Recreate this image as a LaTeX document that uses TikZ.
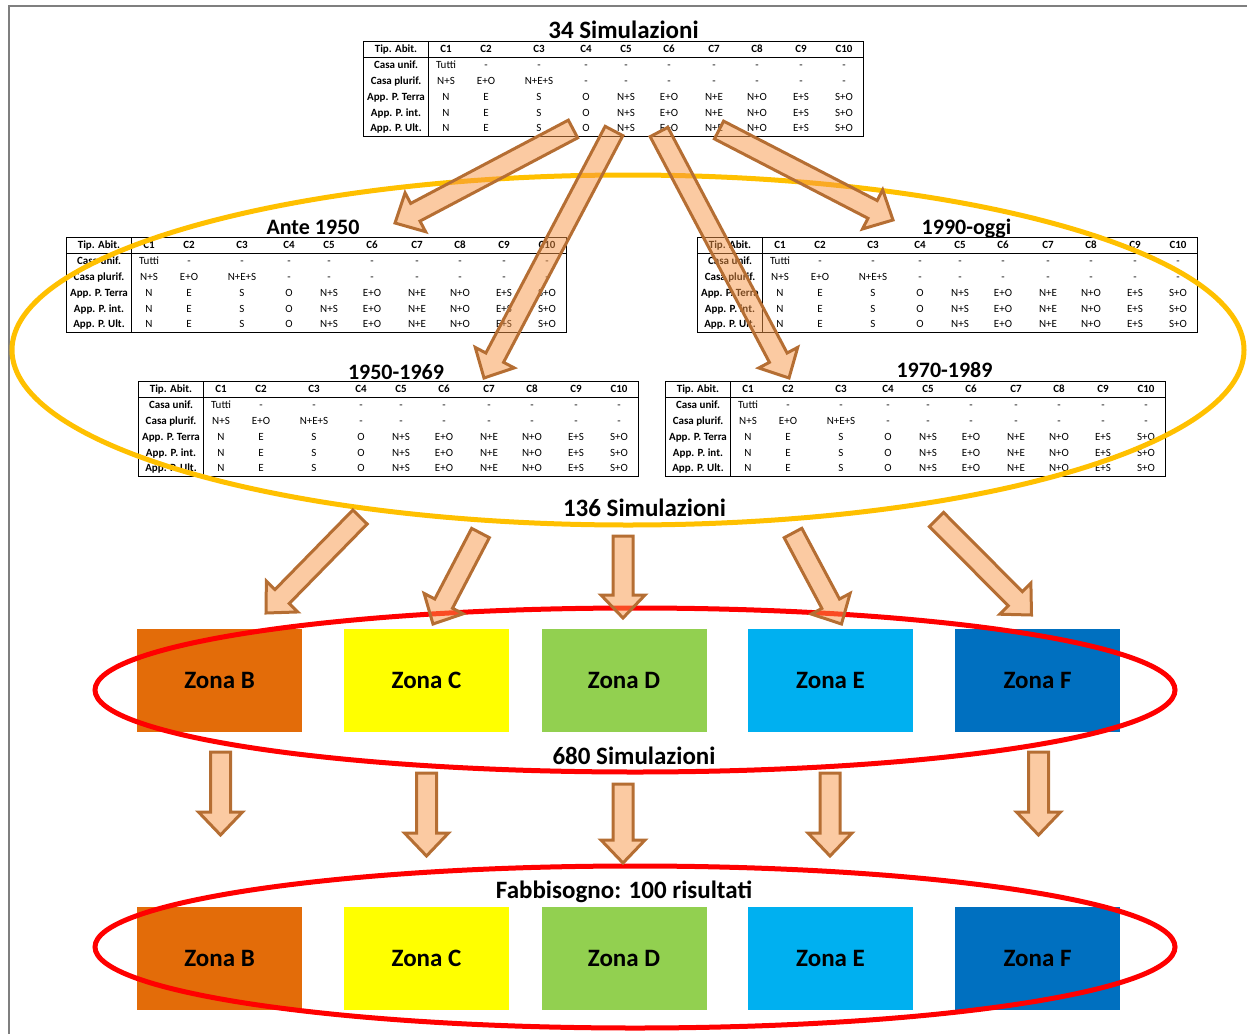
\documentclass[tikz,border=0pt]{standalone}
\usepackage{fontspec}
\setmainfont{Carlito}
\usetikzlibrary{calc}
\definecolor{arrline}{RGB}{181,110,51}
\definecolor{arrfill}{RGB}{247,150,70}
\definecolor{ellyel}{RGB}{255,192,0}
\definecolor{zb}{RGB}{227,108,9}
\definecolor{zc}{RGB}{255,255,0}
\definecolor{zd}{RGB}{146,208,80}
\definecolor{ze}{RGB}{0,176,240}
\definecolor{zf}{RGB}{0,112,192}
\definecolor{pageline}{RGB}{127,127,127}
\tikzset{
 tframe/.style={draw, line width=1pt, minimum width=500pt, minimum height=95pt, inner sep=0pt, anchor=north west},
 tline/.style={line width=0.8pt},
 tcell/.style={anchor=base, inner sep=0pt, font=\fontsize{11}{13}\selectfont},
 thead/.style={anchor=base, inner sep=0pt, font=\fontsize{11}{13}\selectfont\bfseries},
 ttitle/.style={anchor=base, inner sep=0pt, font=\fontsize{22}{26}\selectfont\bfseries},
 biglabel/.style={anchor=base, inner sep=0pt, font=\fontsize{25}{30}\selectfont\bfseries},
 zone/.style={minimum width=165pt, minimum height=103pt, inner sep=0pt, font=\fontsize{25}{30}\selectfont\bfseries},
 blockarrow/.style={draw=arrline, line width=3pt, fill=arrfill, fill opacity=0.5, line join=miter},
 yellowring/.style={draw=ellyel, line width=5pt},
 redring/.style={draw=red, line width=5pt},
 pageborder/.style={draw=pageline, line width=2pt},
}
\def\colx{{83,123,176,223,263,306,351,394,438,481}}
\newcommand\tabrow[3]{%
 \foreach \t [count=\c] in {#3} {%
  \pgfmathsetmacro\cx{\colx[\c-1]}%
  \node[tcell] (#1-\c-#2) at (\cx,{11.8+15.8*#2}) {\t};}}
\newcommand\simtable[3]{% name, left x, top y
 \begin{scope}[shift={(#2,#3)}]
  \node[tframe] (#1) at (0,0) {};
  \draw[tline] ([yshift=-16pt]#1.north west) -- ([yshift=-16pt]#1.north east);
  \draw[tline] ([xshift=65pt]#1.north west) -- ([xshift=65pt]#1.south west);
  \node[thead] (#1-h0) at (33,11.8) {Tip. Abit.};
  \foreach \c in {1,...,10} {%
   \pgfmathsetmacro\cx{\colx[\c-1]}%
   \node[thead] (#1-h\c) at (\cx,11.8) {C\c};}
  \foreach \lab [count=\r] in {Casa unif.,Casa plurif.,App. P. Terra,App. P. int.,App. P. Ult.} {%
   \node[thead] (#1-l\r) at (33,{11.8+15.8*\r}) {\lab};}
  \tabrow{#1}{1}{Tutti,-,-,-,-,-,-,-,-,-}
  \tabrow{#1}{2}{N+S,E+O,N+E+S,-,-,-,-,-,-,-}
  \tabrow{#1}{3}{N,E,S,O,N+S,E+O,N+E,N+O,E+S,S+O}
  \tabrow{#1}{4}{N,E,S,O,N+S,E+O,N+E,N+O,E+S,S+O}
  \tabrow{#1}{5}{N,E,S,O,N+S,E+O,N+E,N+O,E+S,S+O}
 \end{scope}}
\def\aw{10pt}
\def\ahw{22pt}
\def\ahl{23pt}
\newcommand\barrow[2]{%
 \coordinate (bh) at ($(#2)!\ahl!(#1)$);
 \draw[blockarrow] ($(#1)!\aw!90:(#2)$) -- ($(bh)!\aw!90:(#2)$) -- ($(bh)!\ahw!90:(#2)$) -- (#2)
   -- ($(bh)!\ahw!-90:(#2)$) -- ($(bh)!\aw!-90:(#2)$) -- ($(#1)!\aw!-90:(#2)$) -- cycle;}
\begin{document}
\begin{tikzpicture}[x=1pt,y=-1pt]
\useasboundingbox (0,0) rectangle (1247,1033);
\draw[pageborder] (8.5,1040) -- (8.5,6.5) -- (1250,6.5);
% tables
\simtable{t0}{363}{41}
\simtable{ta}{66}{237}
\simtable{td}{697}{237}
\simtable{tb}{138}{381}
\simtable{tc}{665}{381}
\node[biglabel] (t0-title) at (623.5,38.5) {34 Simulazioni};
\node[ttitle] (ta-title) at (313,234) {Ante 1950};
\node[ttitle] (td-title) at (966.5,234) {1990-oggi};
\node[ttitle] (tb-title) at (396,379) {1950-1969};
\node[ttitle] (tc-title) at (944.5,377) {1970-1989};
% yellow ring
\draw[yellowring] (628,350) ellipse [x radius=616pt, y radius=175pt];
% zones
\foreach \n/\x/\col/\lab in {b/219.5/zb/B,c/426.5/zc/C,d/624/zd/D,e/830.5/ze/E,f/1037.5/zf/F} {
 \node[zone, fill=\col] (z1\n) at (\x,680.5) {Zona \lab};
 \node[zone, fill=\col] (z2\n) at (\x,958.5) {Zona \lab};
}
\draw[redring] (635,690) ellipse [x radius=540pt, y radius=82pt];
\draw[redring] (635,947) ellipse [x radius=540pt, y radius=81pt];
\node[biglabel] (l136) at (644.5,516) {136 Simulazioni};
\node[biglabel] (l680) at (634,764) {680 Simulazioni};
\node[biglabel] (lfab) at (624,898) {Fabbisogno: 100 risultati};
% arrow end points
\coordinate (a1s) at (573,129); \coordinate (a1e) at (395,223);
\coordinate (a2s) at (614,131); \coordinate (a2e) at (484,378);
\coordinate (a3s) at (659,132); \coordinate (a3e) at (789,378);
\coordinate (a4s) at (719,130); \coordinate (a4e) at (893,220);
\coordinate (b1s) at (360,517); \coordinate (b1e) at (266,613);
\coordinate (b2s) at (480.5,533); \coordinate (b2e) at (433,624);
\coordinate (b3s) at (623,536); \coordinate (b3e) at (623,618);
\coordinate (b4s) at (793,533); \coordinate (b4e) at (841.5,624);
\coordinate (b5s) at (936.5,519.5); \coordinate (b5e) at (1031.5,615);
\coordinate (c1s) at (220.5,752); \coordinate (c1e) at (220.5,835);
\coordinate (c2s) at (426.5,773); \coordinate (c2e) at (426.5,856);
\coordinate (c3s) at (623,784); \coordinate (c3e) at (623,863);
\coordinate (c4s) at (830,773); \coordinate (c4e) at (830,856);
\coordinate (c5s) at (1038.5,752); \coordinate (c5e) at (1038.5,835);
\foreach \a in {a1,a2,a3,a4,b1,b2,b3,b4,b5,c1,c2,c3,c4,c5} {\barrow{\a s}{\a e}}
\end{tikzpicture}
\end{document}
